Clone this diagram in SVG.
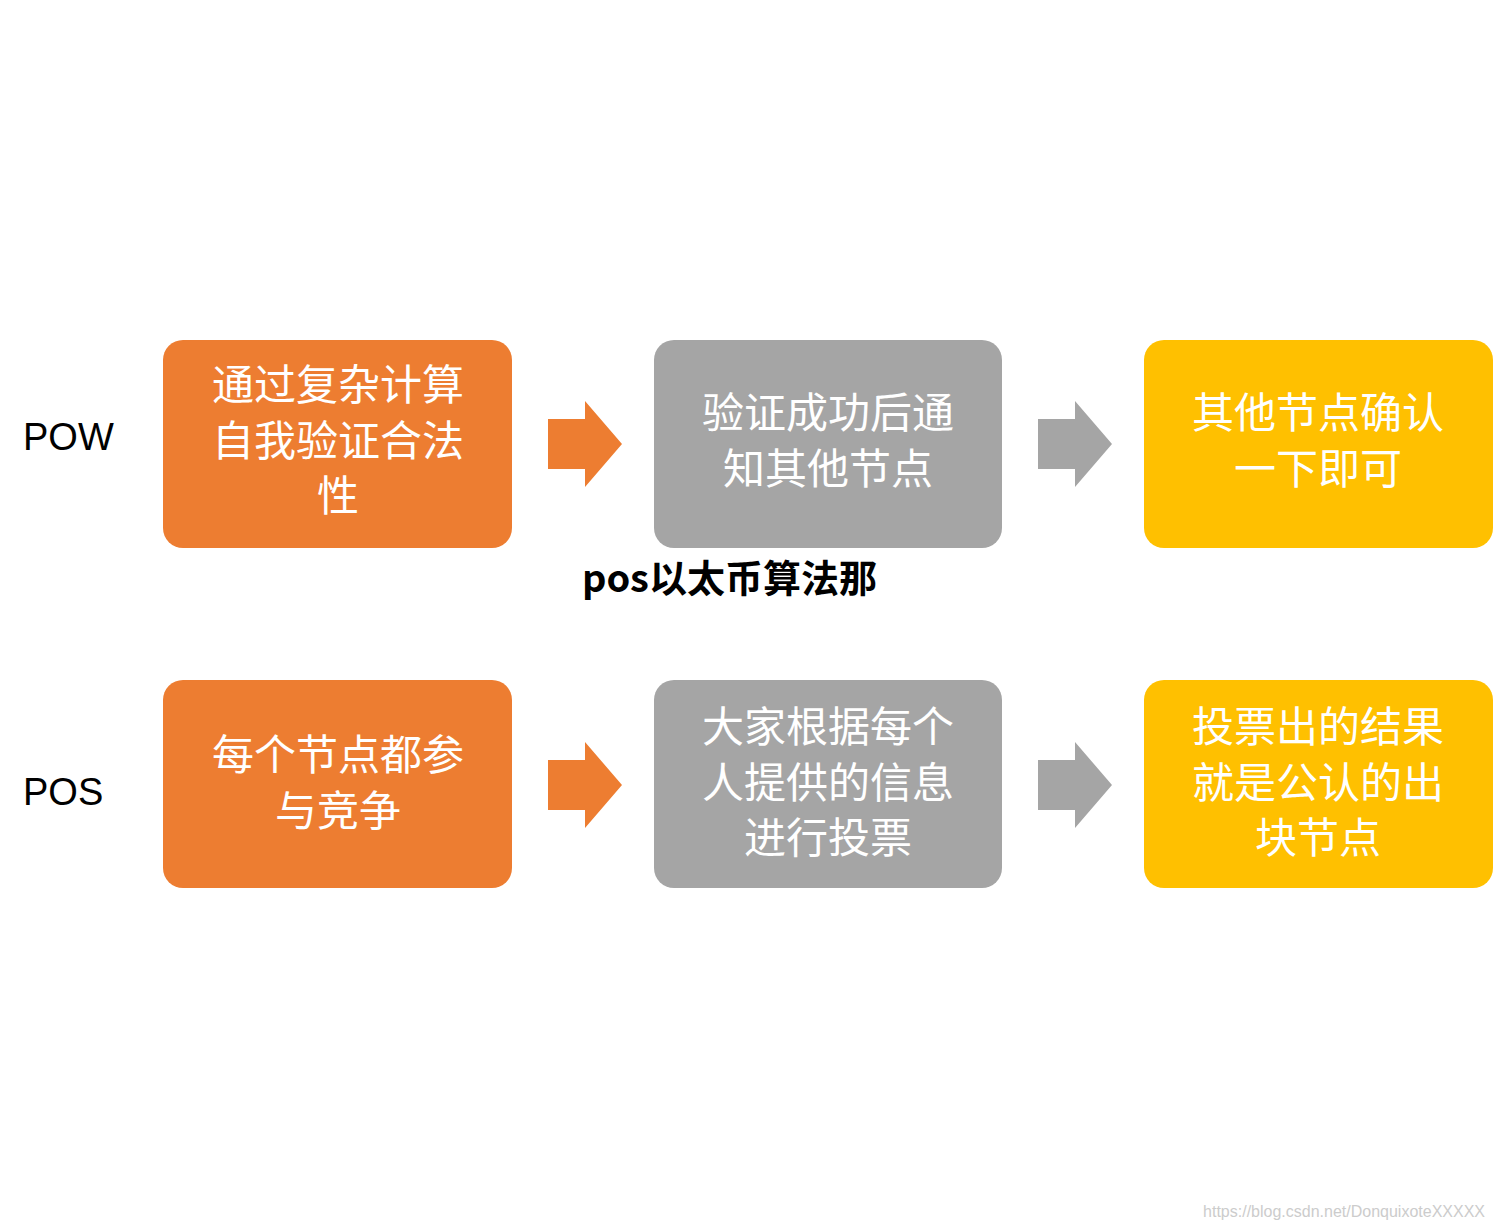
<svg xmlns="http://www.w3.org/2000/svg" width="1493" height="1229" viewBox="0 0 1493 1229">
<style>
.bt{fill:#fff;font-family:"Liberation Sans","Noto Sans CJK SC",sans-serif;font-size:42px;text-anchor:middle}
.lb{fill:#000;font-family:"Liberation Sans",sans-serif;font-size:38px}
.o{fill:#ED7D31}.g{fill:#A5A5A5}.y{fill:#FFC000}
</style>
<defs>
<path id="arr" d="M0,18 H37 V0 L74,43 L37,86 V68 H0 Z"/>
</defs>
<rect width="1493" height="1229" fill="#fff"/>
<g id="labels">
<text class="lb" x="23" y="450">POW</text>
<text class="lb" x="23" y="805">POS</text>
</g>
<g id="n1"><rect class="o" x="163" y="340" width="349" height="208" rx="20"/>
<text class="bt" x="338" y="400">通过复杂计算</text><text class="bt" x="338" y="456">自我验证合法</text><text class="bt" x="338" y="511">性</text></g>
<g id="n2"><rect class="g" x="654" y="340" width="348" height="208" rx="20"/>
<text class="bt" x="828" y="428">验证成功后通</text><text class="bt" x="828" y="484">知其他节点</text></g>
<g id="n3"><rect class="y" x="1144" y="340" width="349" height="208" rx="20"/>
<text class="bt" x="1318" y="428">其他节点确认</text><text class="bt" x="1318" y="484">一下即可</text></g>
<g id="n4"><rect class="o" x="163" y="680" width="349" height="208" rx="20"/>
<text class="bt" x="338" y="770">每个节点都参</text><text class="bt" x="338" y="826">与竞争</text></g>
<g id="n5"><rect class="g" x="654" y="680" width="348" height="208" rx="20"/>
<text class="bt" x="828" y="742">大家根据每个</text><text class="bt" x="828" y="798">人提供的信息</text><text class="bt" x="828" y="853">进行投票</text></g>
<g id="n6"><rect class="y" x="1144" y="680" width="349" height="208" rx="20"/>
<text class="bt" x="1318" y="742">投票出的结果</text><text class="bt" x="1318" y="798">就是公认的出</text><text class="bt" x="1318" y="853">块节点</text></g>
<g id="connectors">
<use href="#arr" class="o" x="548" y="401"/>
<use href="#arr" class="g" x="1038" y="401"/>
<use href="#arr" class="o" x="548" y="742"/>
<use href="#arr" class="g" x="1038" y="742"/>
</g>
<text x="582" y="592" font-family="'Noto Sans CJK SC',sans-serif" font-weight="bold" font-size="38" fill="#000" stroke="#fff" stroke-width="4" paint-order="stroke">pos以太币算法那</text>
<text x="1485" y="1217" text-anchor="end" font-family="'Liberation Sans',sans-serif" font-size="16" fill="#ccc">https://blog.csdn.net/DonquixoteXXXXX</text>
</svg>
